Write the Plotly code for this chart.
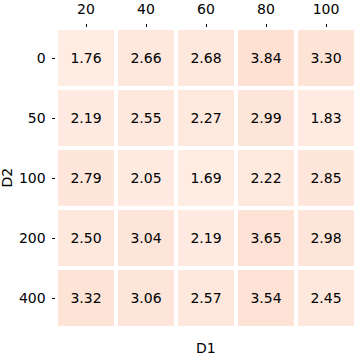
import plotly.graph_objects as go

# Axis categories
d1_labels = ["20", "40", "60", "80", "100"]
d2_labels = ["0", "50", "100", "200", "400"]

# Cell values, one row per D2 value
values = [
    [1.76, 2.66, 2.68, 3.84, 3.30],
    [2.19, 2.55, 2.27, 2.99, 1.83],
    [2.79, 2.05, 1.69, 2.22, 2.85],
    [2.50, 3.04, 2.19, 3.65, 2.98],
    [3.32, 3.06, 2.57, 3.54, 2.45],
]

# matplotlib-like "Reds"
reds = [
    [0.0, "#fff5f0"], [0.125, "#fee0d2"], [0.25, "#fcbba1"],
    [0.375, "#fc9272"], [0.5, "#fb6a4a"], [0.625, "#ef3b2c"],
    [0.75, "#cb181d"], [0.875, "#a50f15"], [1.0, "#67000d"],
]

font = "DejaVu Sans"

fig = go.Figure(go.Heatmap(
    z=values,
    x=d1_labels,
    y=d2_labels,
    colorscale=reds,
    zmin=0,
    zmax=32,
    showscale=False,
    xgap=4,
    ygap=4,
    texttemplate="%{z:.2f}",
    textfont=dict(family=font, size=14, color="black"),
    hoverinfo="skip",
))

fig.update_xaxes(
    type="category", side="top", ticks="outside", ticklen=3.5,
    tickcolor="black", showgrid=False, zeroline=False, showline=False,
    tickfont=dict(family=font, size=14, color="black"), automargin=False,
    ticklabelstandoff=4,
)
fig.update_yaxes(
    type="category", autorange="reversed", ticks="outside", ticklen=3.5,
    tickcolor="black", showgrid=False, zeroline=False, showline=False,
    tickfont=dict(family=font, size=14, color="black"), automargin=False,
    ticklabelstandoff=3,
)

fig.add_annotation(
    text="D1", xref="paper", yref="paper", x=0.5, y=-0.067,
    showarrow=False, yanchor="middle",
    font=dict(family=font, size=14, color="black"),
)
fig.add_annotation(
    text="D2", xref="paper", yref="paper", x=-0.165, y=0.5, xanchor="center",
    showarrow=False, textangle=-90,
    font=dict(family=font, size=14, color="black"),
)

fig.update_layout(
    width=356, height=355,
    margin=dict(l=56, r=0, t=28, b=27),
    paper_bgcolor="white", plot_bgcolor="white",
)

# drop the default page margin so the figure sits at the top-left corner
fig.write_html(
    "out.html",
    config={"displayModeBar": False},
    post_script="document.body.style.margin='0';",
)
